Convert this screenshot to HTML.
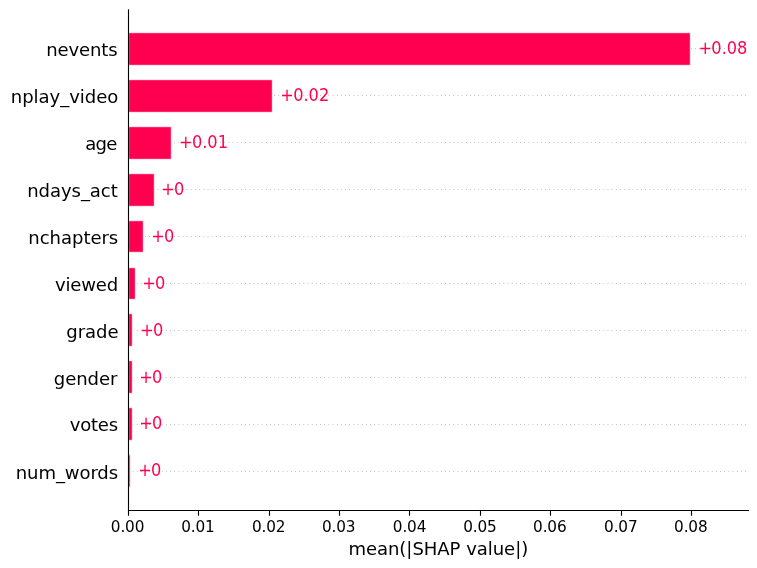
<!DOCTYPE html>
<html lang="en"><head><meta charset="utf-8"><title>SHAP bar plot</title>
<style>
html,body{margin:0;padding:0;background:#fff;}
body{width:757px;height:568px;overflow:hidden;}
svg{display:block;}
text{font-family:"DejaVu Sans", "Liberation Sans", sans-serif;}
.name{font-size:18.06px;fill:#000;}
.val{font-size:16.67px;fill:#ff0051;text-anchor:start;}
.tick{font-size:15.28px;fill:#000;text-anchor:middle;}
.xlabel{font-size:18.06px;fill:#000;text-anchor:middle;}
</style></head><body>
<svg width="757" height="568" viewBox="0 0 757 568">
<rect width="757" height="568" fill="#fff"/>
<g stroke="#888888" stroke-width="0.6944" stroke-dasharray="0.6944 3.4722" fill="none">
<line x1="128.5" y1="48.5" x2="748.5" y2="48.5"/>
<line x1="128.5" y1="95.5" x2="748.5" y2="95.5"/>
<line x1="128.5" y1="142.5" x2="748.5" y2="142.5"/>
<line x1="128.5" y1="189.5" x2="748.5" y2="189.5"/>
<line x1="128.5" y1="236.5" x2="748.5" y2="236.5"/>
<line x1="128.5" y1="283.5" x2="748.5" y2="283.5"/>
<line x1="128.5" y1="330.5" x2="748.5" y2="330.5"/>
<line x1="128.5" y1="377.5" x2="748.5" y2="377.5"/>
<line x1="128.5" y1="424.5" x2="748.5" y2="424.5"/>
<line x1="128.5" y1="471.5" x2="748.5" y2="471.5"/>
</g>
<g fill="#ff0051" stroke="#fff" stroke-opacity="0.8" stroke-width="1.389">
<rect x="128.5" y="32.5" width="562.0" height="33.0"/>
<rect x="128.5" y="79.5" width="144.0" height="33.0"/>
<rect x="128.5" y="126.5" width="43.0" height="33.0"/>
<rect x="128.5" y="173.5" width="26.0" height="33.0"/>
<rect x="128.5" y="220.5" width="15.0" height="32.0"/>
<rect x="128.5" y="267.5" width="7.0" height="32.0"/>
<rect x="128.5" y="313.5" width="4.0" height="33.0"/>
<rect x="128.5" y="360.5" width="4.0" height="33.0"/>
<rect x="128.5" y="407.5" width="4.0" height="33.0"/>
<rect x="128.5" y="454.5" width="2.0" height="33.0"/>
</g>
<text class="val" transform="translate(697.8,54) scale(0.972,1.07)" dx="0.8 -0.8">+0.08</text>
<text class="val" transform="translate(279.58,101) scale(0.972,1.07)" dx="0.8 -0.8">+0.02</text>
<text class="val" transform="translate(178.34,148) scale(0.972,1.07)" dx="0.8 -0.8">+0.01</text>
<text class="val" transform="translate(160.42,195) scale(0.972,1.07)" dx="0.8 -0.8">+0</text>
<text class="val" transform="translate(150.48,242) scale(0.972,1.07)" dx="0.8 -0.8">+0</text>
<text class="val" transform="translate(141.55,289) scale(0.972,1.07)" dx="0.8 -0.8">+0</text>
<text class="val" transform="translate(139.36,336) scale(0.972,1.07)" dx="0.8 -0.8">+0</text>
<text class="val" transform="translate(138.47,383) scale(0.972,1.07)" dx="0.8 -0.8">+0</text>
<text class="val" transform="translate(138.54,429) scale(0.972,1.07)" dx="0.8 -0.8">+0</text>
<text class="val" transform="translate(137.51,476) scale(0.972,1.07)" dx="0.8 -0.8">+0</text>
<text class="name" x="46.34" y="56" letter-spacing="-0.168">nevents</text>
<text class="name" x="10.82" y="103" letter-spacing="-0.056">nplay_video</text>
<text class="name" x="85.21" y="150" letter-spacing="-0.787">age</text>
<text class="name" x="27.16" y="197" letter-spacing="-0.06">ndays_act</text>
<text class="name" x="28.35" y="244" letter-spacing="-0.05">nchapters</text>
<text class="name" x="55.04" y="291" letter-spacing="-0.21">viewed</text>
<text class="name" x="66.25" y="338" letter-spacing="-0.032">grade</text>
<text class="name" x="53.83" y="385" letter-spacing="-0.1">gender</text>
<text class="name" x="69.74" y="431" letter-spacing="-0.24">votes</text>
<text class="name" x="15.76" y="479" letter-spacing="-0.109">num_words</text>
<g stroke="#000" stroke-width="1.11" fill="none" stroke-linecap="square">
<line x1="128.5" y1="9.78" x2="128.5" y2="510.5"/>
<line x1="128.5" y1="510.5" x2="748.5" y2="510.5"/>
</g>
<g stroke="#000" stroke-width="1.11" fill="none">
<line x1="128.5" y1="510.5" x2="128.5" y2="515.75"/>
<line x1="198.5" y1="510.5" x2="198.5" y2="515.75"/>
<line x1="269.5" y1="510.5" x2="269.5" y2="515.75"/>
<line x1="339.5" y1="510.5" x2="339.5" y2="515.75"/>
<line x1="409.5" y1="510.5" x2="409.5" y2="515.75"/>
<line x1="480.5" y1="510.5" x2="480.5" y2="515.75"/>
<line x1="550.5" y1="510.5" x2="550.5" y2="515.75"/>
<line x1="621.5" y1="510.5" x2="621.5" y2="515.75"/>
<line x1="691.5" y1="510.5" x2="691.5" y2="515.75"/>
</g>
<text class="tick" x="127.56" y="531.6" letter-spacing="-0.15">0.00</text>
<text class="tick" x="197.83" y="531.6" letter-spacing="-0.15">0.01</text>
<text class="tick" x="268.74" y="531.6" letter-spacing="-0.15">0.02</text>
<text class="tick" x="338.74" y="531.6" letter-spacing="-0.15">0.03</text>
<text class="tick" x="409.53" y="531.6" letter-spacing="-0.15">0.04</text>
<text class="tick" x="479.89" y="531.6" letter-spacing="-0.15">0.05</text>
<text class="tick" x="549.81" y="531.6" letter-spacing="-0.15">0.06</text>
<text class="tick" x="620.80" y="531.6" letter-spacing="-0.15">0.07</text>
<text class="tick" x="690.80" y="531.6" letter-spacing="-0.15">0.08</text>
<text class="xlabel" x="438.30" y="554.6" letter-spacing="-0.05">mean(|SHAP value|)</text>
</svg></body></html>
